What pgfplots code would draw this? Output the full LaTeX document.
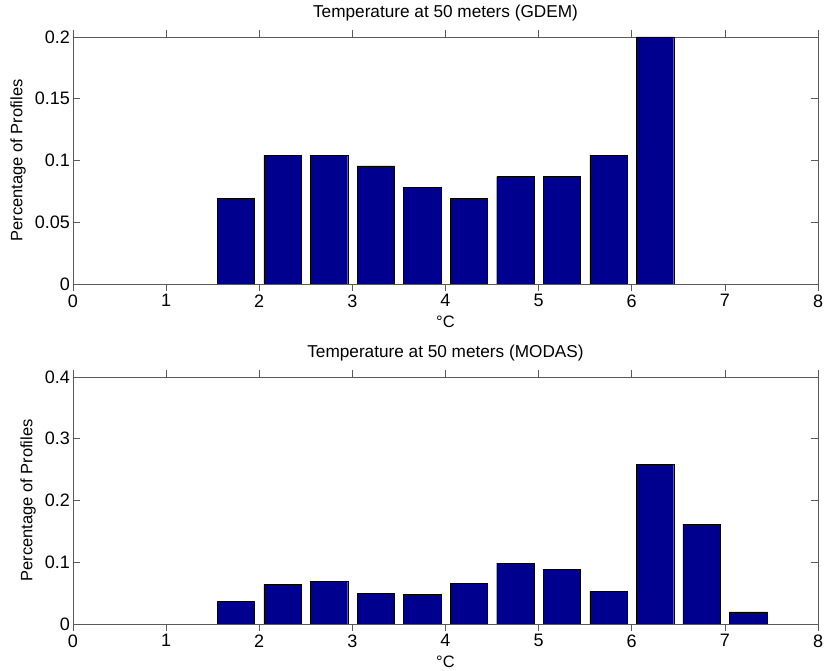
\documentclass[border=0pt]{standalone}
\usepackage{fontspec}
\setmainfont{Liberation Sans}
\usepackage{pgfplots}
\pgfplotsset{compat=1.18}
\definecolor{barblue}{RGB}{0,0,143}
\definecolor{axgray}{RGB}{90,90,90}
\begin{document}
\begin{tikzpicture}[x=1pt,y=1pt]
\useasboundingbox (0,0) rectangle (824,671);
\pgfplotsset{
 hist/.style={
  scale only axis, width=745pt, height=247pt,
  xmin=0, xmax=8, xtick={0,1,2,3,4,5,6,7,8}, ymin=0,
  ybar, bar width=0.4, bar shift=0pt,
  axis line style={axgray, line width=0.8pt},
  tick style={axgray, line width=0.6pt}, major tick length=7pt,
  tick label style={font=\fontsize{18}{21}\selectfont},
  yticklabel style={inner sep=3pt},
  label style={font=\fontsize{16.5}{19}\selectfont},
  title style={font=\fontsize{17.2}{20}\selectfont, at={(0.5,1)}, anchor=base, yshift=13pt},
  xlabel={°C},
  /pgf/number format/assume math mode=true,
  yticklabel style={/pgf/number format/fixed, /pgf/number format/precision=2},
  xlabel style={at={(axis description cs:0.5,0)}, anchor=base, yshift=-44pt},
 }
}
\begin{axis}[hist, at={(73pt,387pt)}, anchor=south west, ymax=0.2,
  ytick={0,0.05,0.1,0.15,0.2},
  title={Temperature at 50 meters (GDEM)}, ylabel={Percentage of Profiles},
  ylabel style={at={(axis description cs:-0.0738,0.5)}, anchor=center}]
\addplot[fill=barblue, draw=black, line width=0.3pt] coordinates {
 (1.75,0.0696) (2.25,0.1043) (2.75,0.1043) (3.25,0.0957) (3.75,0.0783)
 (4.25,0.0696) (4.75,0.0870) (5.25,0.0870) (5.75,0.1043) (6.25,0.2)};
\end{axis}
\begin{axis}[hist, at={(73pt,47pt)}, anchor=south west, ymax=0.4,
  ytick={0,0.1,0.2,0.3,0.4},
  title={Temperature at 50 meters (MODAS)}, ylabel={Percentage of Profiles},
  ylabel style={at={(axis description cs:-0.0604,0.5)}, anchor=center}]
\addplot[fill=barblue, draw=black, line width=0.3pt] coordinates {
 (1.75,0.037) (2.25,0.0638) (2.75,0.0692) (3.25,0.0493) (3.75,0.0483)
 (4.25,0.0654) (4.75,0.0987) (5.25,0.0885) (5.75,0.0531) (6.25,0.2584)
 (6.75,0.1619) (7.25,0.0198)};
\end{axis}
\end{tikzpicture}
\end{document}
